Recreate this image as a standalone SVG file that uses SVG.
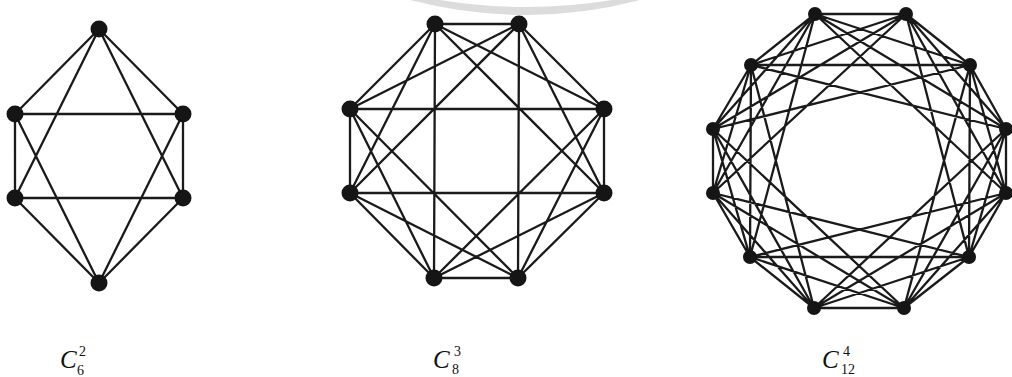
<svg xmlns="http://www.w3.org/2000/svg" width="1012" height="377" viewBox="0 0 1012 377">
<style>
.e{stroke:#1a1a1a;stroke-width:2.3;fill:none;stroke-linecap:round}
.n{fill:#151515}
.lab{font-family:"Liberation Serif","Times New Roman",serif;fill:#111}
.C{font-style:italic;font-size:25px}
.d{font-size:14px}
</style>
<rect width="1012" height="377" fill="#fff"/>
<path d="M410,0 Q527,30 640,0 L612,0 Q527,14 440,0 Z" fill="#dcdcdc"/>
<g id="connectors">
<path class="e" d="M99,29L183,114M183,114L183,198M183,198L99,283M99,283L15,198M15,198L15,114M15,114L99,29M99,29L183,198M183,114L99,283M183,198L15,198M99,283L15,114M15,198L99,29M15,114L183,114"/>
<path class="e" d="M435,24L519,24M435,24L604,109M435,24L604,193M519,24L604,109M519,24L604,193M519,24L518,278M604,109L604,193M604,109L518,278M604,109L434,278M604,193L518,278M604,193L434,278M604,193L350,193M518,278L434,278M518,278L350,193M518,278L350,109M434,278L350,193M434,278L350,109M434,278L435,24M350,193L350,109M350,193L435,24M350,193L519,24M350,109L435,24M350,109L519,24M350,109L604,109"/>
<path class="e" d="M815,14L906,14M815,14L970,65M815,14L1006,129M815,14L1006,193M906,14L970,65M906,14L1006,129M906,14L1006,193M906,14L969,257M970,65L1006,129M970,65L1006,193M970,65L969,257M970,65L904,308M1006,129L1006,193M1006,129L969,257M1006,129L904,308M1006,129L814,308M1006,193L969,257M1006,193L904,308M1006,193L814,308M1006,193L750,257M969,257L904,308M969,257L814,308M969,257L750,257M969,257L713,193M904,308L814,308M904,308L750,257M904,308L713,193M904,308L713,129M814,308L750,257M814,308L713,193M814,308L713,129M814,308L751,65M750,257L713,193M750,257L713,129M750,257L751,65M750,257L815,14M713,193L713,129M713,193L751,65M713,193L815,14M713,193L906,14M713,129L751,65M713,129L815,14M713,129L906,14M713,129L970,65M751,65L815,14M751,65L906,14M751,65L970,65M751,65L1006,129"/>
</g>
<g id="a0"><circle class="n" cx="99" cy="29" r="8.5"/></g>
<g id="a1"><circle class="n" cx="183" cy="114" r="8.5"/></g>
<g id="a2"><circle class="n" cx="183" cy="198" r="8.5"/></g>
<g id="a3"><circle class="n" cx="99" cy="283" r="8.5"/></g>
<g id="a4"><circle class="n" cx="15" cy="198" r="8.5"/></g>
<g id="a5"><circle class="n" cx="15" cy="114" r="8.5"/></g>
<g id="b0"><circle class="n" cx="435" cy="24" r="8.5"/></g>
<g id="b1"><circle class="n" cx="519" cy="24" r="8.5"/></g>
<g id="b2"><circle class="n" cx="604" cy="109" r="8.5"/></g>
<g id="b3"><circle class="n" cx="604" cy="193" r="8.5"/></g>
<g id="b4"><circle class="n" cx="518" cy="278" r="8.5"/></g>
<g id="b5"><circle class="n" cx="434" cy="278" r="8.5"/></g>
<g id="b6"><circle class="n" cx="350" cy="193" r="8.5"/></g>
<g id="b7"><circle class="n" cx="350" cy="109" r="8.5"/></g>
<g id="d0"><circle class="n" cx="815" cy="14" r="7"/></g>
<g id="d1"><circle class="n" cx="906" cy="14" r="7"/></g>
<g id="d2"><circle class="n" cx="970" cy="65" r="7"/></g>
<g id="d3"><circle class="n" cx="1006" cy="129" r="7"/></g>
<g id="d4"><circle class="n" cx="1006" cy="193" r="7"/></g>
<g id="d5"><circle class="n" cx="969" cy="257" r="7"/></g>
<g id="d6"><circle class="n" cx="904" cy="308" r="7"/></g>
<g id="d7"><circle class="n" cx="814" cy="308" r="7"/></g>
<g id="d8"><circle class="n" cx="750" cy="257" r="7"/></g>
<g id="d9"><circle class="n" cx="713" cy="193" r="7"/></g>
<g id="d10"><circle class="n" cx="713" cy="129" r="7"/></g>
<g id="d11"><circle class="n" cx="751" cy="65" r="7"/></g>
<g id="label-c6" class="lab"><text class="C" x="60" y="368">C</text><text class="d" x="79" y="356">2</text><text class="d" x="77" y="375">6</text></g>
<g id="label-c8" class="lab"><text class="C" x="433" y="368">C</text><text class="d" x="454" y="356">3</text><text class="d" x="452" y="374">8</text></g>
<g id="label-c12" class="lab"><text class="C" x="822" y="368">C</text><text class="d" x="843" y="356">4</text><text class="d" x="841" y="374">12</text></g>
</svg>
